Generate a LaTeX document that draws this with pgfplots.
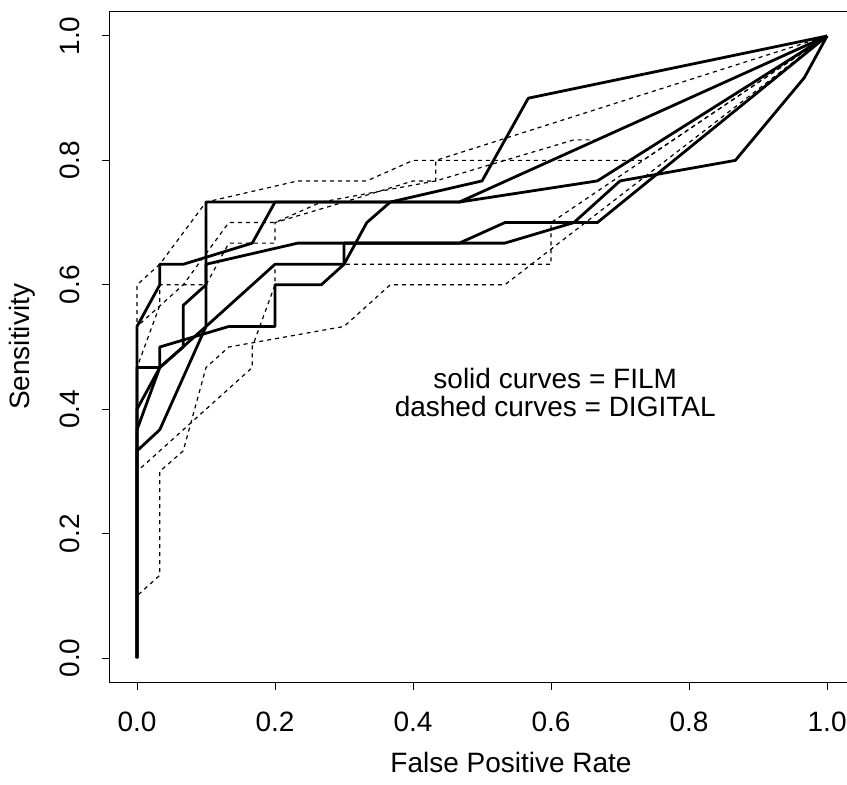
\documentclass[border=0pt]{standalone}
\usepackage{pgfplots}
\pgfplotsset{compat=1.18}
\usepackage{fontspec}
\setmainfont{Liberation Sans}
\begin{document}
\fontsize{14pt}{17pt}\selectfont
\begin{tikzpicture}
\begin{axis}[
  scale only axis, width=401.3pt, height=335.9pt,
  xmin=-0.04, xmax=1.123, ymin=-0.04, ymax=1.04,
  axis lines*=left,
  axis line style={line width=0.5pt, black, -},
  xtick={0,0.2,0.4,0.6,0.8,1}, ytick={0,0.2,0.4,0.6,0.8,1},
  xticklabels={0.0,0.2,0.4,0.6,0.8,1.0},
  yticklabels={0.0,0.2,0.4,0.6,0.8,1.0},
  tick align=outside,
  major tick length=3.5pt, tick style={line width=0.5pt, black},
  xticklabel style={anchor=north, inner sep=0pt},
  yticklabel style={rotate=90, anchor=south, inner sep=0pt},
  xticklabel shift=11pt, yticklabel shift=11pt,
  clip=false,
  solid/.style={black, line width=1.4pt, line join=round},
  dsh/.style={black, line width=0.6pt, dash pattern=on 2pt off 2pt},
]
% FILM
\addplot[solid] coordinates {(0,0)(0,0.333)(0.033,0.367)(0.1,0.533)(0.2,0.633)(0.3,0.633)(0.333,0.7)(0.367,0.733)(0.5,0.767)(0.567,0.9)(1,1)};
\addplot[solid] coordinates {(0,0)(0,0.533)(0.033,0.6)(0.033,0.633)(0.067,0.633)(0.167,0.667)(0.2,0.733)(0.467,0.733)(1,1)};
\addplot[solid] coordinates {(0,0)(0,0.467)(0.033,0.467)(0.033,0.5)(0.133,0.533)(0.2,0.533)(0.2,0.6)(0.267,0.6)(0.3,0.633)(0.3,0.667)(0.467,0.667)(0.533,0.7)(0.667,0.7)(1,1)};
\addplot[solid] coordinates {(0,0)(0,0.367)(0.033,0.467)(0.067,0.5)(0.067,0.567)(0.1,0.6)(0.1,0.633)(0.233,0.667)(0.533,0.667)(0.633,0.7)(0.7,0.767)(0.867,0.8)(0.967,0.933)(1,1)};
\addplot[solid] coordinates {(0,0)(0,0.4)(0.033,0.467)(0.1,0.533)(0.1,0.733)(0.467,0.733)(0.667,0.767)(1,1)};
% DIGITAL
\addplot[dsh] coordinates {(0,0)(0,0.6)(0.033,0.633)(0.1,0.733)(0.233,0.767)(0.333,0.767)(0.4,0.8)(0.733,0.8)(1,1)};
\addplot[dsh] coordinates {(0,0)(0,0.467)(0.033,0.567)(0.033,0.6)(0.1,0.6)(0.133,0.667)(0.2,0.667)(0.2,0.7)(0.3,0.733)(0.4,0.767)(0.433,0.767)(0.433,0.8)(1,1)};
\addplot[dsh] coordinates {(0,0)(0,0.533)(0.067,0.6)(0.133,0.7)(0.2,0.7)(0.267,0.733)(0.433,0.767)(0.633,0.833)(0.667,0.833)(1,1)};
\addplot[dsh] coordinates {(0,0)(0,0.3)(0.067,0.367)(0.167,0.467)(0.167,0.5)(0.2,0.6)(0.2,0.633)(0.6,0.633)(0.6,0.7)(1,1)};
\addplot[dsh] coordinates {(0,0)(0,0.1)(0.033,0.133)(0.033,0.3)(0.067,0.333)(0.1,0.467)(0.133,0.5)(0.3,0.533)(0.367,0.6)(0.533,0.6)(1,1)};
\draw[line width=0.5pt] (axis cs:-0.04,1.04) -- (axis cs:1.123,1.04);
\node[anchor=base, inner sep=0pt] at (axis cs:0.606,0.434) {solid curves = FILM};
\node[anchor=base, inner sep=0pt] at (axis cs:0.606,0.3875) {dashed curves = DIGITAL};
\end{axis}
\node at (200.8pt,-40pt) {False Positive Rate};
\node[rotate=90] at (-43.7pt,168pt) {Sensitivity};
\pgfresetboundingbox
\path[use as bounding box] (-54.7pt,-50.55pt) rectangle (368.8pt,341.45pt);
\end{tikzpicture}
\end{document}
